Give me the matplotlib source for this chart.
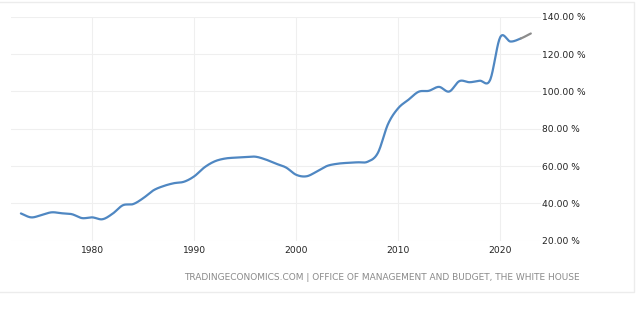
import matplotlib

matplotlib.use("Agg")
import matplotlib.pyplot as plt
import numpy as np
from matplotlib.patches import Rectangle

# ---- data (US government debt to GDP, %) ---------------------------------
years = list(range(1973, 2024))
debt_pct = [
    34.6, 32.5, 33.7, 35.2, 34.7, 34.2, 32.1, 32.5, 31.5, 34.5,
    39.0, 39.6, 42.8, 47.0, 49.3, 50.8, 51.6, 54.5, 59.3, 62.5,
    64.0, 64.5, 64.8, 65.0, 63.5, 61.3, 59.2, 55.3, 54.5, 57.0,
    60.0, 61.2, 61.7, 62.0, 62.3, 67.0, 82.5, 91.0, 95.5, 99.8,
    100.3, 102.4, 99.9, 105.5, 104.9, 105.7, 106.0, 129.0, 126.7, 128.3,
    131.0,
]
forecast_from = 2022
y_ticks = [20, 40, 60, 80, 100, 120, 140]
x_ticks = [1980, 1990, 2000, 2010, 2020]
source = "TRADINGECONOMICS.COM | OFFICE OF MANAGEMENT AND BUDGET, THE WHITE HOUSE"


def catmull_rom(x, y, n=20):
    """Smooth curve through the points (cubic Hermite, Catmull-Rom tangents)."""
    x = np.asarray(x, float)
    y = np.asarray(y, float)
    m = np.gradient(y, x)
    xs, ys = [], []
    for i in range(len(x) - 1):
        h = x[i + 1] - x[i]
        t = np.linspace(0, 1, n, endpoint=(i == len(x) - 2))
        h00 = 2 * t**3 - 3 * t**2 + 1
        h10 = t**3 - 2 * t**2 + t
        h01 = -2 * t**3 + 3 * t**2
        h11 = t**3 - t**2
        xs.append(x[i] + t * h)
        ys.append(h00 * y[i] + h10 * h * m[i] + h01 * y[i + 1] + h11 * h * m[i + 1])
    return np.concatenate(xs), np.concatenate(ys)


xs, ys = catmull_rom(years, debt_pct)
hist = xs <= forecast_from
fcst = xs >= forecast_from

fig = plt.figure(figsize=(6.4, 3.33), dpi=100)
fig.patches.append(Rectangle((-0.01, 1 - 292 / 333), (634 / 640) + 0.01, 290 / 333,
                             transform=fig.transFigure, fill=False,
                             edgecolor="#ececec", linewidth=1.0))

ax = fig.add_axes([10.7 / 640, 1 - 240.7 / 333, (541 - 10.7) / 640, (240.7 - 16.7) / 333])
ax.plot(xs[hist], ys[hist], color="#4f87c2", linewidth=1.6, solid_capstyle="round", zorder=3)
ax.plot(xs[fcst], ys[fcst], color="#8c8c8c", linewidth=1.6, solid_capstyle="round", zorder=3)

ax.set_xlim(1972, 2024)
ax.set_ylim(20, 140)
ax.set_xticks(x_ticks)
ax.set_xticklabels([str(v) for v in x_ticks])
ax.set_yticks(y_ticks)
ax.set_yticklabels([f"{v:.2f} %" for v in y_ticks])
ax.yaxis.tick_right()
ax.tick_params(axis="both", length=0, labelsize=6.6, colors="#222222")
ax.tick_params(axis="y", pad=1)
ax.tick_params(axis="x", pad=4)
for lab in ax.get_yticklabels():
    lab.set_horizontalalignment("left")
ax.grid(True, color="#efefef", linewidth=0.8)
ax.set_axisbelow(True)
for s in ax.spines.values():
    s.set_visible(False)

fig.text(580 / 640, 1 - 277 / 333, source, ha="right", va="center",
         fontsize=6.5, color="#8a8a8a")

fig.savefig("out.png", dpi=100)
